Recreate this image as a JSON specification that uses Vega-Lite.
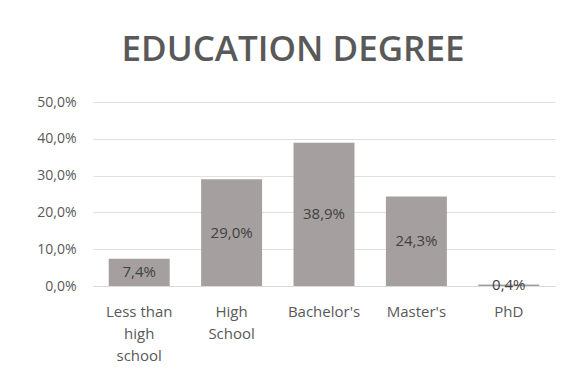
{
  "$schema": "https://vega.github.io/schema/vega-lite/v6.json",
  "width": 462,
  "height": 184,
  "autosize": {"type": "none"},
  "padding": {"left": 93, "top": 102, "right": 9, "bottom": 93},
  "background": "white",
  "config": {
    "locale": {"number": {"decimal": ",", "thousands": ".", "grouping": [3], "currency": ["", " €"]}},
    "view": {"stroke": null},
    "font": "Open Sans",
    "axisY": {
      "title": null,
      "format": ".1%",
      "values": [0, 0.1, 0.2, 0.3, 0.4, 0.5],
      "labelOverlap": false,
      "domain": false,
      "ticks": false,
      "gridColor": "#e0e0e0",
      "labelFontSize": 14,
      "labelColor": "#595959",
      "labelPadding": 17
    }
  },
  "title": {
    "text": "EDUCATION DEGREE",
    "fontSize": 35,
    "fontWeight": 600,
    "color": "#595959",
    "font": "Open Sans",
    "anchor": "middle",
    "dx": -31,
    "offset": 27
  },
  "data": {
    "values": [
      {"degree": "Less than high school", "share": 0.074},
      {"degree": "High School", "share": 0.29},
      {"degree": "Bachelor's", "share": 0.389},
      {"degree": "Master's", "share": 0.243},
      {"degree": "PhD", "share": 0.004}
    ]
  },
  "transform": [{"calculate": "datum.share / 2", "as": "mid"}],
  "encoding": {
    "x": {
      "field": "degree",
      "type": "nominal",
      "sort": null,
      "scale": {"paddingInner": 0.34, "paddingOuter": 0.17},
      "axis": {
        "title": null,
        "labelAngle": 0,
        "labelFontSize": 15,
        "labelColor": "#595959",
        "labelPadding": 18,
        "labelLineHeight": 22,
        "labelOverlap": false,
        "ticks": false,
        "domainColor": "#d9d9d9",
        "labelExpr": "datum.value == 'Less than high school' ? ['Less than', 'high', 'school'] : datum.value == 'High School' ? ['High', 'School'] : datum.value"
      }
    }
  },
  "layer": [
    {
      "mark": {"type": "bar", "color": "#a5a09f"},
      "encoding": {
        "y": {
          "field": "share",
          "type": "quantitative",
          "scale": {"domain": [0, 0.5]},
          "axis": {"values": [0, 0.1, 0.2, 0.3, 0.4, 0.5], "format": ".1%"}
        }
      }
    },
    {
      "mark": {"type": "text", "fontSize": 15, "color": "#404040", "baseline": "middle"},
      "encoding": {
        "y": {"field": "mid", "type": "quantitative", "axis": {"values": [0, 0.1, 0.2, 0.3, 0.4, 0.5], "format": ".1%"}},
        "text": {"field": "share", "type": "quantitative", "format": ".1%"}
      }
    }
  ]
}
